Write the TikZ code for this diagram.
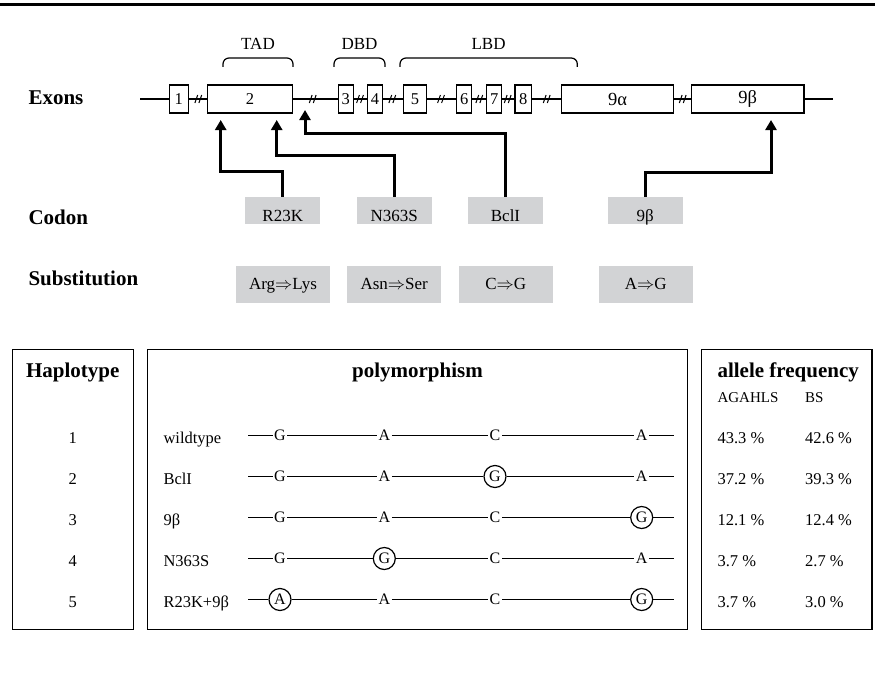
\documentclass[tikz,border=0pt]{standalone}
\usepackage{fontspec}
\setmainfont{Liberation Serif}
\usetikzlibrary{arrows.meta}
\definecolor{boxgray}{RGB}{210,211,213}
\newcommand\myfs[1]{\fontsize{#1}{#1}\selectfont}
\begin{document}
\begin{tikzpicture}[x=1pt,y=-1pt,
  thinline/.style={line width=1.2pt},
  exon/.style={draw, fill=white, line width=1.2pt, minimum height=28pt, inner sep=0pt, font=\myfs{16.5}},
  domainbrace/.style={line width=1.2pt, rounded corners=6pt},
  domlabel/.style={font=\myfs{17}, anchor=base},
  rowlabel/.style={font=\myfs{21}\bfseries, anchor=base west},
  codonbox/.style={fill=boxgray, minimum width=75pt, minimum height=27.6pt, inner sep=0pt, text height=21pt, text depth=0pt, font=\myfs{17}},
  subbox/.style={fill=boxgray, minimum width=94pt, minimum height=36.7pt, inner sep=0pt, text height=12pt, text depth=2pt, font=\myfs{17}},
  arr/.style={line width=3pt, -{Triangle[length=10pt,width=11pt]}},
  panel/.style={draw, line width=1.3pt},
  headtext/.style={font=\myfs{21}\bfseries, anchor=base},
  cellc/.style={font=\myfs{16.5}, anchor=base},
  cellw/.style={font=\myfs{16.5}, anchor=base west},
  nt/.style={font=\myfs{16}, inner sep=1.5pt},
  snp/.style={font=\myfs{16}, draw, circle, line width=1.2pt, minimum size=22pt, inner sep=0pt},
  slashmark/.style={line width=1pt},
]
\useasboundingbox (0,0) rectangle (875,677);
% top rule
\coordinate (rl) at (0,4.5);
\coordinate (rr) at (875,4.5);
\draw[line width=3pt] (rl) -- (rr);

% ---- exon row
\node[rowlabel] (lexons) at (25,104) {Exons};
\coordinate (xs) at (140,99);
\coordinate (xe) at (832.7,99);
\draw[thinline] (xs) -- (xe);
\foreach \x in {198.3,312.7,360,392.3,441,479.3,507.7,546.7,682.7}{
  \draw[slashmark] ({\x-3.4},103) -- ({\x-0.6},95);
  \draw[slashmark] ({\x+0.6},103) -- ({\x+3.4},95);
}
\node[exon, minimum width=19pt]    (e1)  at (178.8,99) {1};
\node[exon, minimum width=85.4pt]  (e2)  at (250,99) {2};
\node[exon, minimum width=15pt]    (e3)  at (345.8,99) {3};
\node[exon, minimum width=14.6pt]  (e4)  at (375,99) {4};
\node[exon, minimum width=23.4pt]  (e5)  at (415,99) {5};
\node[exon, minimum width=15pt]    (e6)  at (464.2,99) {6};
\node[exon, minimum width=15pt]    (e7)  at (494.2,99) {7};
\node[exon, minimum width=16.7pt]  (e8)  at (523.3,99) {8};
\node[exon, minimum width=111.6pt, font=\myfs{18.5}] (e9a) at (617.5,99) {9α};
\node[exon, minimum width=112.3pt, font=\myfs{18.5}] (e9b) at (747.8,99) {9β};

% domain braces
\draw[domainbrace] (223,67) -- (223,58) -- (293,58) -- (293,67);
\draw[domainbrace] (334,67) -- (334,58) -- (385,58) -- (385,67);
\draw[domainbrace] (400,67) -- (400,58) -- (577.3,58) -- (577.3,67);
\node[domlabel] (ltad) at (258,49) {TAD};
\node[domlabel] (ldbd) at (359.5,49) {DBD};
\node[domlabel] (llbd) at (488.6,49) {LBD};

% ---- codon row
\node[rowlabel] (lcodon) at (25,224) {Codon};
\node[codonbox] (c1) at (282.8,210.5) {R23K};
\node[codonbox] (c2) at (394.3,210.5) {N363S};
\node[codonbox] (c3) at (505.5,210.5) {BclI};
\node[codonbox] (c4) at (645.2,210.5) {9β};

% ---- substitution row
\node[rowlabel] (lsub) at (25,285) {Substitution};
\node[subbox] (s1) at (283,284.3) {Arg$\Rightarrow$Lys};
\node[subbox] (s2) at (394.2,284.3) {Asn$\Rightarrow$Ser};
\node[subbox] (s3) at (505.8,284.3) {C$\Rightarrow$G};
\node[subbox] (s4) at (645.8,284.3) {A$\Rightarrow$G};

% ---- arrows
\coordinate (t1) at (220.7,120);
\coordinate (t2) at (276.7,120);
\coordinate (t3) at (305,110);
\coordinate (t4) at (771,120);
\draw[arr] (c1.north) -- ++(0,-25) -| (t1);
\draw[arr] (c2.north) -- ++(0,-40.7) -| (t2);
\draw[arr] (c3.north) -- ++(0,-63.4) -| (t3);
\draw[arr] (c4.north) -- ++(0,-24) -| (t4);

% ---- bottom panels
\draw[panel] (12.3,349.3) rectangle (133.3,629.3);
\draw[panel] (147.3,349.3) rectangle (687.3,629.3);
\draw[panel] (701.7,349.3) rectangle (872,629.3);
\node[headtext] (hhap) at (72.8,377) {Haplotype};
\node[headtext] (hpoly) at (417.5,377) {polymorphism};
\node[headtext, anchor=base west] (hfreq) at (714,377) {allele frequency};
\node[font=\myfs{15}, anchor=base west] (pop1) at (714,402.3) {AGAHLS};
\node[font=\myfs{15}, anchor=base west] (pop2) at (801.7,402.3) {BS};

\foreach [count=\i] \nm/\la/\sa/\lb/\sb/\lc/\sc/\ld/\sd/\fa/\fb in {
  wildtype/G/nt/A/nt/C/nt/A/nt/43.3 \%/42.6 \%,
  BclI/G/nt/A/nt/G/snp/A/nt/37.2 \%/39.3 \%,
  9β/G/nt/A/nt/C/nt/G/snp/12.1 \%/12.4 \%,
  N363S/G/nt/G/snp/C/nt/A/nt/3.7 \%/2.7 \%,
  R23K+9β/A/snp/A/nt/C/nt/G/snp/3.7 \%/3.0 \%}{
  \pgfmathsetmacro\yl{435.5+41*(\i-1)}
  \pgfmathsetmacro\yb{\yl+7.8}
  \node[cellc] (hn\i) at (72.8,\yb) {\i};
  \node[cellw] (nm\i) at (160,\yb) {\nm};
  \coordinate (ls\i) at (248.3,\yl);
  \coordinate (le\i) at (674.3,\yl);
  \node[\sa] (pa\i) at (280,\yl) {\la};
  \node[\sb] (pb\i) at (384.3,\yl) {\lb};
  \node[\sc] (pc\i) at (495,\yl) {\lc};
  \node[\sd] (pd\i) at (641.7,\yl) {\ld};
  \draw[thinline] (ls\i) -- (pa\i) -- (pb\i) -- (pc\i) -- (pd\i) -- (le\i);
  \node[cellw] (fa\i) at (714,\yb) {\fa};
  \node[cellw] (fb\i) at (801.7,\yb) {\fb};
}
\end{tikzpicture}
\end{document}
